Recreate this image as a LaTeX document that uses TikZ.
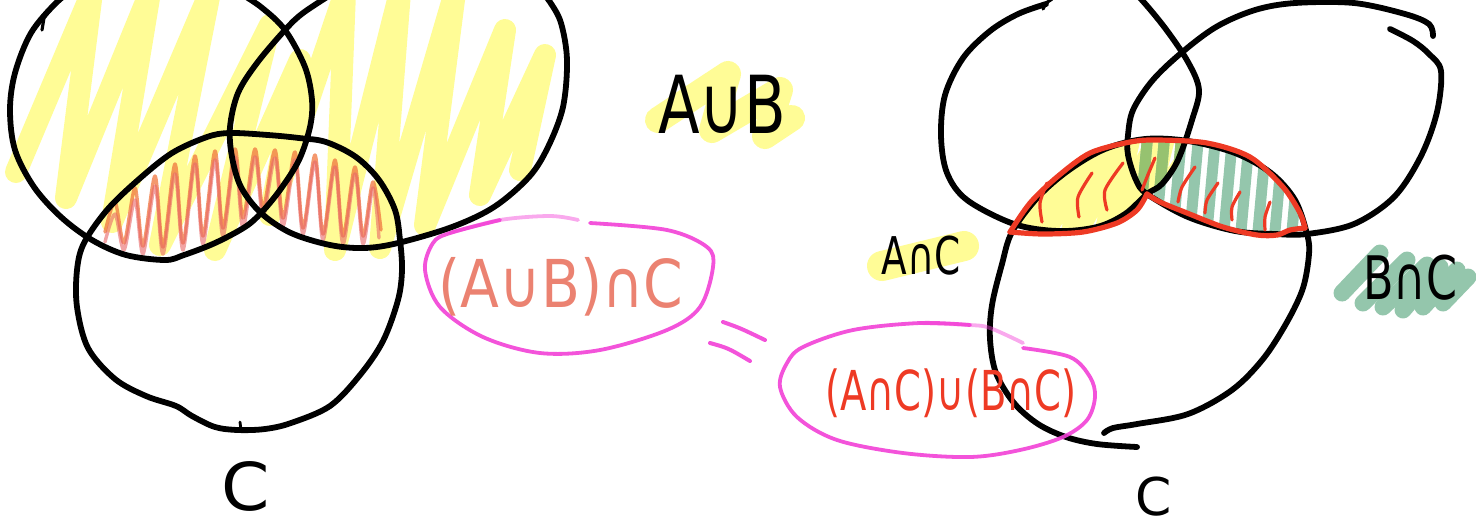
\documentclass[tikz,border=0pt]{standalone}
\usepackage{fontspec}
\setmainfont{DejaVu Sans}
\usepackage{graphicx}
\definecolor{hlyellow}{RGB}{255,252,150}
\definecolor{hlgreen}{RGB}{148,198,172}
\definecolor{mixgreen}{RGB}{150,194,112}
\definecolor{pencilred}{RGB}{232,108,88}
\definecolor{inkred}{RGB}{238,58,36}
\definecolor{inkmagenta}{RGB}{242,64,214}
\definecolor{scrorange}{RGB}{240,118,62}
\definecolor{scrpink}{RGB}{232,102,104}
% handwritten-style label: size, horizontal squeeze, text
\newcommand\hw[3]{\scalebox{#2}[1]{\fontsize{#1}{#1}\selectfont #3}}
\begin{document}
\begin{tikzpicture}[x=0.5pt,y=-0.5pt,
  ink/.style={line width=2.9pt,line cap=round,line join=round},
  redink/.style={draw=inkred,line width=2.6pt,line cap=round,line join=round},
  redtick/.style={draw=inkred,line width=1.6pt,line cap=round,line join=round},
  marker/.style={line cap=round,line join=round},
  loopline/.style={draw=inkmagenta,line width=1.9pt,line cap=round,line join=round,opacity=0.9},
  lbl/.style={inner sep=0pt}]
\useasboundingbox (0,0) rectangle (1476,527);
\clip (0,0) rectangle (1476,527);

% ================= left diagram: (A u B) n C =================
% yellow marker over A and B
\draw[marker,hlyellow,line width=11pt]
  (16,172)--(92,-8)--(66,198)--(150,-8)--(112,222)--(210,-8)--(160,245)--(270,25)
  --(215,250)--(300,60)--(270,215)--(345,-8)--(335,250)--(400,-8)--(380,248)
  --(455,-8)--(425,225)--(505,30)--(480,195)--(545,55)--(520,170);

% red pencil scribble inside C
\begin{scope}
  \clip plot[smooth cycle,tension=0.55] coordinates {(230,133)(268,135)(299,138)(326,142)(356,157)(379,180)(395,210)(400,240)(402,270)(398,300)(383,341)(360,375)(330,406)(291,423)(238,430)(192,416)(146,396)(115,379)(88,348)(77,307)(77,270)(84,243)(107,210)(138,180)(172,153)(207,137)};
  \draw[marker,scrorange,line width=1.7pt,opacity=0.75] plot[smooth,tension=0.5] coordinates {
    (105,232)(115,202)(124,243)(135,188)(143,246)(155,176)(163,247)(175,164)
    (183,243)(195,156)(203,236)(215,151)(223,228)(235,149)(243,218)(255,149)
    (263,208)(275,150)(283,218)(295,152)(303,228)(315,155)(323,234)(335,160)
    (343,236)(355,167)(363,236)(373,182)(381,230)};
  \draw[marker,scrpink,line width=1.7pt,opacity=0.6,shift={(5,4)}] plot[smooth,tension=0.5] coordinates {
    (100,238)(110,210)(119,246)(130,196)(138,250)(150,182)(158,250)(170,170)
    (178,246)(190,160)(198,240)(210,156)(218,232)(230,153)(238,224)(250,153)
    (258,212)(270,154)(278,222)(290,156)(298,230)(310,158)(318,236)(330,163)
    (338,240)(350,170)(358,240)(368,184)(374,234)};
\end{scope}

% circle A
\draw[ink] plot[smooth,tension=0.55] coordinates {(238,-8)(261,7)(285,30)(305,67)(312,100)(310,127)(299,160)(280,190)(261,213)(245,227)(215,243)(184,255)(165,260)(126,255)(92,240)(61,217)(34,187)(15,150)(10,110)(15,73)(31,33)(57,2)(80,-15)};
\draw[ink,line width=1.6pt] (42,30)--(44,18)--(50,10);
% circle B
\draw[ink] plot[smooth,tension=0.55] coordinates {(335,-8)(303,13)(285,30)(257,63)(238,93)(230,127)(232,157)(241,187)(261,213)(291,233)(330,245)(364,248)(398,243)(452,227)(494,207)(529,177)(548,147)(563,107)(567,60)(561,23)(550,2)(540,-10)};
% circle C
\draw[ink] plot[smooth cycle,tension=0.55] coordinates {(230,133)(268,135)(299,138)(326,142)(356,157)(379,180)(395,210)(400,240)(402,270)(398,300)(383,341)(360,375)(330,406)(291,423)(265,429)(238,430)(215,427)(192,416)(176,406)(146,396)(115,379)(88,348)(77,307)(77,270)(84,243)(107,210)(138,180)(172,153)(207,137)};
\draw[ink,line width=1.4pt] (240,422)--(241,430);

\node[lbl] (labC1) at (246,486) {\hw{33}{1.05}{C}};

% A u B label with its highlight
\draw[marker,hlyellow,line width=13pt] (658,120)--(728,74)--(712,130)--(780,90)--(765,136)--(792,118);
\node[lbl] (labAuB) at (722,104) {\hw{40}{0.76}{A∪B}};

% ================= middle: the identity =================
\draw[loopline] plot[smooth,tension=0.55] coordinates {(590,223)(667,230)(707,247)(713,267)(700,307)(667,330)(600,350)(540,353)(483,337)(440,307)(425,270)(433,243)(450,233)(500,220)};
\draw[loopline,opacity=0.45] plot[smooth,tension=0.55] coordinates {(450,233)(500,220)(550,216)(578,220)};
\node[lbl,text=pencilred,opacity=0.85] (lhs) at (561,287) {\hw{33}{0.86}{(A∪B)∩C}};

% equals sign
\draw[loopline,line width=2pt] (723,322) .. controls (740,328) .. (765,340);
\draw[loopline,line width=2pt] (710,343) .. controls (728,348) .. (750,361);

% ================= right diagram: (A n C) u (B n C) =================
% yellow in A n C
\begin{scope}
  \clip plot[smooth cycle,tension=0.55] coordinates {(1046,4)(1018,14)(990,31)(963,58)(945,95)(941,136)(947,173)(967,200)(1014,224)(1058,231)(1097,227)(1125,214)(1147,194)(1162,184)(1178,160)(1192,120)(1199,90)(1188,62)(1165,28)(1120,-2)(1080,-6)};
  \clip plot[smooth cycle,tension=0.55] coordinates {(1002,264)(1012,232)(1038,197)(1069,170)(1105,149)(1145,139)(1188,141)(1235,153)(1271,173)(1295,200)(1307,234)(1309,254)(1303,288)(1287,322)(1263,359)(1232,390)(1188,414)(1137,430)(1097,440)(1066,434)(1038,422)(1014,403)(996,373)(990,339)(992,305)};
  \draw[marker,hlyellow,line width=12pt] (1012,245)--(1062,168)--(1036,242)--(1096,150)--(1070,242)--(1130,132)--(1105,238)--(1165,130)--(1140,230)--(1205,135);
\end{scope}
% green bars in B n C
\begin{scope}
  \clip plot[smooth cycle,tension=0.55] coordinates {(1390,29)(1413,41)(1429,54)(1441,71)(1437,112)(1421,156)(1394,197)(1354,224)(1307,234)(1275,234)(1235,231)(1188,217)(1147,194)(1136,180)(1128,155)(1128,135)(1133,110)(1152,81)(1180,54)(1216,27)(1255,10)(1295,3)(1354,3)(1405,14)};
  \clip plot[smooth cycle,tension=0.55] coordinates {(1002,264)(1012,232)(1038,197)(1069,170)(1105,149)(1145,139)(1188,141)(1235,153)(1271,173)(1295,200)(1307,234)(1309,254)(1303,288)(1287,322)(1263,359)(1232,390)(1188,414)(1137,430)(1097,440)(1066,434)(1038,422)(1014,403)(996,373)(990,339)(992,305)};
  \foreach \bx in {1142,1159,1176,1193,1210,1227,1244,1261,1278,1295}
    \draw[marker,hlgreen,line width=5.5pt] (\bx+6,132)--(\bx-4,242);
  % where A, B and C overlap the green sits on yellow
  \clip plot[smooth cycle,tension=0.55] coordinates {(1046,4)(1018,14)(990,31)(963,58)(945,95)(941,136)(947,173)(967,200)(1014,224)(1058,231)(1097,227)(1125,214)(1147,194)(1162,184)(1178,160)(1192,120)(1199,90)(1188,62)(1165,28)(1120,-2)(1080,-6)};
  \foreach \bx in {1142,1159,1176,1193}
    \draw[marker,mixgreen,line width=5.5pt] (\bx+6,132)--(\bx-4,242);
\end{scope}

% circle A
\draw[ink] plot[smooth,tension=0.55] coordinates {(1046,4)(1018,14)(990,31)(963,58)(945,95)(941,136)(947,173)(967,200)(1014,224)(1058,231)(1097,227)(1125,214)(1147,194)(1162,184)(1178,160)(1192,120)(1199,90)(1188,62)(1165,28)(1140,-2)(1125,-15)};
\draw[ink,line width=1.6pt] (1043,9)--(1046,3)--(1052,-1);
% circle B
\draw[ink] plot[smooth,tension=0.55] coordinates {(1390,29)(1413,41)(1429,54)(1441,71)(1437,112)(1421,156)(1394,197)(1354,224)(1307,234)(1275,234)(1235,231)(1188,217)(1147,194)(1136,180)(1128,155)(1128,135)(1133,110)(1152,81)(1180,54)(1216,27)(1255,10)(1295,3)(1354,3)(1405,14)(1429,24)(1433,36)};
% circle C
\draw[ink] plot[smooth,tension=0.55] coordinates {(1137,447)(1097,444)(1066,437)(1038,424)(1014,403)(996,373)(990,339)(992,305)(1002,264)(1012,232)(1038,197)(1069,170)(1105,149)(1145,139)(1188,141)(1235,153)(1271,173)(1295,200)(1307,234)(1309,254)(1303,288)(1287,322)(1263,359)(1232,390)(1188,414)(1137,424)(1113,428)(1104,433)};

% red outline of (A n C) u (B n C)
\draw[redink] plot[smooth,tension=0.5] coordinates {(1010,232)(1030,203)(1057,177)(1090,153)(1130,142)(1157,140)(1207,143)(1250,157)(1283,187)(1300,213)(1305,228)};
\draw[redink] plot[smooth,tension=0.5] coordinates {(1305,228)(1290,230)(1277,235)(1257,235)(1223,227)(1187,213)(1160,202)(1147,194)};
\draw[redink] plot[smooth,tension=0.5] coordinates {(1147,194)(1137,210)(1117,223)(1083,232)(1043,234)(1010,232)};
% red hatch ticks
\draw[redtick] plot[smooth] coordinates {(1047,183)(1040,203)(1042,222)};
\draw[redtick] plot[smooth] coordinates {(1092,173)(1078,197)(1079,217)};
\draw[redtick] plot[smooth] coordinates {(1123,163)(1105,190)(1107,210)};
\draw[redtick] plot[smooth] coordinates {(1155,158)(1147,177)(1142,190)};
\draw[redtick] plot[smooth] coordinates {(1195,167)(1182,187)(1178,202)};
\draw[redtick] plot[smooth] coordinates {(1218,183)(1207,200)(1205,213)};
\draw[redtick] plot[smooth] coordinates {(1240,192)(1232,207)(1232,220)};
\draw[redtick] plot[smooth] coordinates {(1270,202)(1265,217)(1265,230)};

\node[lbl] (labC2) at (1154,497) {\hw{26}{1}{C}};

% A n C label
\draw[marker,hlyellow,line width=15pt] (882,266)--(964,246);
\node[lbl] (labAnC) at (921,256) {\hw{26}{0.72}{A∩C}};

% B n C label
\foreach \ax/\ay/\bx/\by in {1342/293/1380/253,1363/303/1407/260,1383/307/1427/265,1403/310/1440/267,1423/307/1457/270,1443/303/1468/277}
  \draw[marker,hlgreen,line width=8.5pt] (\ax,\ay)--(\bx,\by);
\node[lbl] (labBnC) at (1410,278) {\hw{30}{0.74}{B∩C}};

% loop round the right-hand side
\draw[loopline] plot[smooth,tension=0.55] coordinates {(1023,348)(1070,357)(1090,377)(1095,397)(1087,420)(1063,437)(1020,450)(970,457)(903,453)(837,440)(797,417)(780,387)(787,363)(803,347)(853,330)(920,323)(970,325)};
\draw[loopline,opacity=0.45] plot[smooth,tension=0.55] coordinates {(920,323)(970,325)(990,328)(1023,343)};
\node[lbl,text=inkred] (rhs) at (951,393) {\hw{27.5}{0.70}{(A∩C)∪(B∩C)}};
\end{tikzpicture}
\end{document}
